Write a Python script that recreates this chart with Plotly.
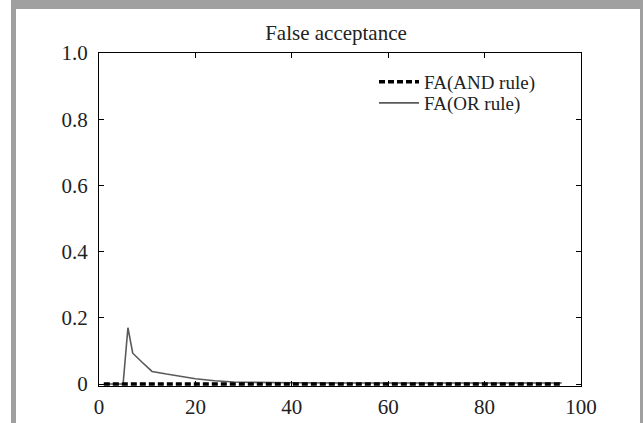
import plotly.graph_objects as go

W, H = 643, 423
L, R, T, B = 99, 581, 53, 386  # plot area in pixels
Y0_PX = 384  # pixel row of value 0

x_and = list(range(1, 97))
y_and = [0.0] * len(x_and)

x_or = [1, 5, 6, 7, 9, 11, 14, 17, 20, 24, 28, 32, 36, 40, 50, 60, 70, 80, 90, 96]
y_or = [0.0, 0.0, 0.17, 0.093, 0.065, 0.038, 0.03, 0.023, 0.016, 0.01, 0.006, 0.005, 0.004, 0.004, 0.003, 0.003, 0.003, 0.003, 0.003, 0.003]

x_ticks = [0, 20, 40, 60, 80, 100]
x_labels = ["0", "20", "40", "60", "80", "100"]
y_ticks = [0, 0.2, 0.4, 0.6, 0.8, 1.0]
y_labels = ["0", "0.2", "0.4", "0.6", "0.8", "1.0"]

FONT = "Liberation Serif, Times New Roman, Times, serif"


def px(xp):
    return (xp - L) / (R - L)


def py(yp):
    return (B - yp) / (B - T)


y_low = -(B - Y0_PX) / (Y0_PX - T)

fig = go.Figure()
fig.add_trace(go.Scatter(x=x_or, y=y_or, mode="lines", name="FA(OR rule)",
                         line=dict(color="#5a5a5a", width=1.6), legend="legend2"))
fig.add_trace(go.Scatter(x=x_and, y=y_and, mode="lines", name="FA(AND rule)",
                         line=dict(color="black", width=3.5, dash="6px,3px"), legend="legend"))

gray = "#a0a0a0"
shapes = [
    dict(type="rect", xref="paper", yref="paper", x0=px(11), x1=px(643), y0=py(0), y1=py(9),
         fillcolor=gray, line=dict(width=0), layer="below"),
    dict(type="rect", xref="paper", yref="paper", x0=px(11), x1=px(16), y0=py(0), y1=py(423),
         fillcolor=gray, line=dict(width=0), layer="below"),
    dict(type="rect", xref="paper", yref="paper", x0=px(640), x1=px(643), y0=py(0), y1=py(423),
         fillcolor=gray, line=dict(width=0), layer="below"),
]

axis_common = dict(showgrid=False, zeroline=False, showline=True, linecolor="black", linewidth=1,
                   mirror="ticks", ticks="inside", ticklen=5, tickcolor="black", tickwidth=1,
                   automargin=False,
                   tickfont=dict(family=FONT, size=21, color="#222222"))

legend_common = dict(xanchor="left", yanchor="middle", bgcolor="rgba(0,0,0,0)", borderwidth=0,
                     font=dict(family=FONT, size=19, color="#222222"), itemwidth=40)

fig.update_layout(
    width=W, height=H,
    margin=dict(l=L, r=W - R, t=T, b=H - B, autoexpand=False),
    paper_bgcolor="white", plot_bgcolor="white",
    title=dict(text="False acceptance", x=px(336), xref="paper", xanchor="center",
               y=1 - 33 / H, yanchor="middle",
               font=dict(family=FONT, size=21, color="#222222")),
    xaxis=dict(range=[0, 100], tickvals=x_ticks, ticktext=x_labels, ticklabelstandoff=2, **axis_common),
    yaxis=dict(range=[y_low, 1.0], tickvals=y_ticks, ticktext=y_labels, ticklabelstandoff=6, **axis_common),
    legend=dict(x=px(374), y=py(82), **legend_common),
    legend2=dict(x=px(374), y=py(103), **legend_common),
    showlegend=True,
    shapes=shapes,
)

fig.write_html("out.html", config={"displayModeBar": False},
               post_script="document.body.style.margin='0';document.body.style.overflow='hidden';")
